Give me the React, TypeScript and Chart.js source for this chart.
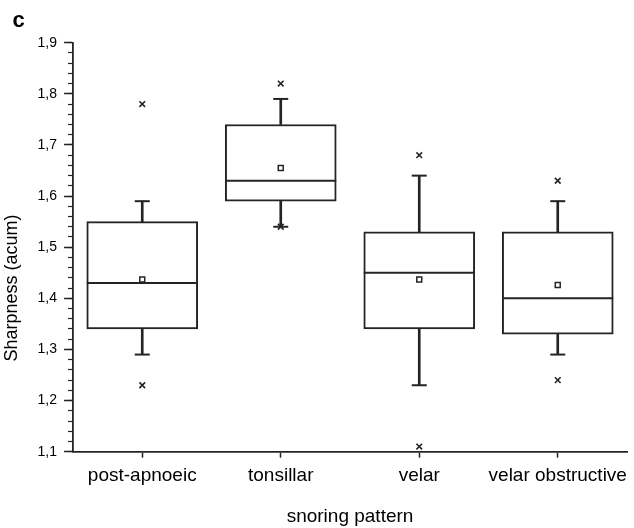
import React, { useEffect, useRef } from "react";
import { Chart, registerables } from "chart.js";

Chart.register(...registerables);

const categories = ["post-apnoeic", "tonsillar", "velar", "velar obstructive"];
const q1 = [1.34, 1.59, 1.34, 1.33];
const q3 = [1.55, 1.74, 1.53, 1.53];
const medians = [1.43, 1.63, 1.45, 1.40];
const whiskerLow = [1.29, 1.54, 1.23, 1.29];
const whiskerHigh = [1.59, 1.79, 1.64, 1.59];
const means = [1.437, 1.655, 1.437, 1.426];
const outlierHigh = [1.78, 1.82, 1.68, 1.63];
const outlierLow = [1.23, 1.54, 1.11, 1.24];
const yMajorTicks = [1.1, 1.2, 1.3, 1.4, 1.5, 1.6, 1.7, 1.8, 1.9];
const yMin = 1.1;
const yMax = 1.9;
const xTitle = "snoring pattern";
const yTitle = "Sharpness (acum)";
const panelLabel = "c";

const FONT = "'Liberation Sans', Arial, sans-serif";
const INK = "#242424";

export default function App() {
  const ref = useRef<HTMLCanvasElement | null>(null);

  useEffect(() => {
    if (!ref.current) return;
    const minorTicks: number[] = [];
    for (let i = Math.round(yMin * 50); i <= Math.round(yMax * 50); i++) minorTicks.push(i / 50);

    const textPlugin = {
      id: "extraText",
      afterDraw(chart: any) {
        const ctx = chart.ctx;
        ctx.save();
        ctx.fillStyle = "#000";
        ctx.font = `bold 22px ${FONT}`;
        ctx.textAlign = "left";
        ctx.textBaseline = "alphabetic";
        ctx.fillText(panelLabel, 12.5, 27);
        ctx.font = `18px ${FONT}`;
        ctx.translate(16.5, 288);
        ctx.rotate(-Math.PI / 2);
        ctx.textAlign = "center";
        ctx.fillText(yTitle, 0, 0);
        ctx.restore();
      },
    };

    const boxData = categories.map((_, i) => [q1[i], q3[i]]);
    const upperWhisker = categories.map((_, i) => [q3[i], whiskerHigh[i]]);
    const lowerWhisker = categories.map((_, i) => [whiskerLow[i], q1[i]]);

    const pointDs = (data: number[], style: string, radius: number, bg: string, bw: number) => ({
      type: "line" as const,
      data,
      showLine: false,
      pointStyle: style,
      pointRadius: radius,
      pointHoverRadius: radius,
      pointBorderColor: INK,
      pointBackgroundColor: bg,
      pointBorderWidth: bw,
      order: 0,
      clip: false,
    });

    const chart = new Chart(ref.current, {
      type: "bar",
      data: {
        labels: categories,
        datasets: [
          {
            data: upperWhisker as any,
            backgroundColor: INK,
            borderWidth: 0,
            barThickness: 2,
            grouped: false,
            order: 5,
          },
          {
            data: lowerWhisker as any,
            backgroundColor: INK,
            borderWidth: 0,
            barThickness: 2,
            grouped: false,
            order: 5,
          },
          {
            data: boxData as any,
            backgroundColor: "#ffffff",
            borderColor: INK,
            borderWidth: 2,
            borderSkipped: false,
            barThickness: 111,
            grouped: false,
            order: 4,
          },
          pointDs(medians, "line", 55.5, INK, 2) as any,
          pointDs(whiskerHigh, "line", 7.5, INK, 2) as any,
          pointDs(whiskerLow, "line", 7.5, INK, 2) as any,
          pointDs(outlierHigh, "crossRot", 4, INK, 1.6) as any,
          pointDs(outlierLow, "crossRot", 4, INK, 1.6) as any,
          pointDs(means, "rect", 3.5, "#ffffff", 1.5) as any,
        ],
      },
      options: {
        responsive: false,
        animation: false,
        events: [],
        layout: { autoPadding: false, padding: { top: 42.7, right: 7, left: 0, bottom: 0 } },
        plugins: { legend: { display: false }, tooltip: { enabled: false } },
        scales: {
          x: {
            type: "category",
            offset: true,
            grid: {
              offset: false,
              drawOnChartArea: false,
              drawTicks: true,
              tickLength: 6,
              tickColor: INK,
              tickWidth: 1.5,
            },
            border: { display: true, color: INK, width: 1.8 },
            ticks: { color: "#000", font: { family: FONT, size: 19 }, padding: 7, maxRotation: 0, autoSkip: false },
            title: {
              display: true,
              text: xTitle,
              color: "#000",
              font: { family: FONT, size: 19 },
              padding: { top: 0, bottom: 0 },
            },
            afterFit: (s: any) => {
              s.height = 528 - 451.7;
              s.paddingLeft = 0;
              s.paddingRight = 0;
            },
          },
          y: {
            type: "linear",
            min: yMin,
            max: yMax,
            weight: 2,
            grid: {
              drawOnChartArea: false,
              drawTicks: true,
              tickLength: 9,
              tickColor: INK,
              tickWidth: 1.5,
            },
            border: { display: true, color: INK, width: 1.8 },
            ticks: {
              color: "#000",
              font: { family: FONT, size: 14 },
              padding: 7,
              callback: (v: any) => Number(v).toFixed(1).replace(".", ","),
            },
            afterBuildTicks: (s: any) => {
              s.ticks = yMajorTicks.map((v) => ({ value: v }));
            },
            afterFit: (s: any) => {
              s.width = 73;
              s.paddingTop = 0;
              s.paddingBottom = 0;
            },
          },
          yMinor: {
            type: "linear",
            position: "left",
            min: yMin,
            max: yMax,
            weight: 0,
            grid: {
              drawOnChartArea: false,
              drawTicks: true,
              tickLength: 5,
              tickColor: INK,
              tickWidth: 1.2,
            },
            border: { display: false },
            ticks: { display: false },
            afterBuildTicks: (s: any) => {
              s.ticks = minorTicks.map((v) => ({ value: v }));
            },
            afterFit: (s: any) => {
              s.width = 0;
              s.paddingTop = 0;
              s.paddingBottom = 0;
            },
          },
        },
      } as any,
      plugins: [textPlugin],
    });
    return () => chart.destroy();
  }, []);

  return (
    <div style={{ position: "fixed", left: 0, top: 0, width: 634, height: 528, background: "#fff" }}>
      <canvas ref={ref} width={634} height={528} style={{ display: "block" }} />
    </div>
  );
}
